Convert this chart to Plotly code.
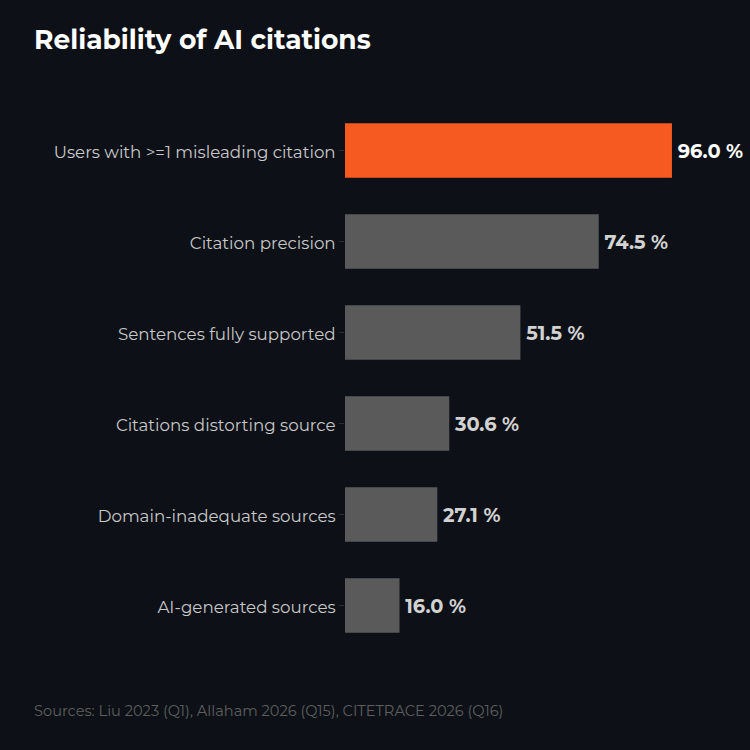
import plotly.graph_objects as go

# data
categories = [
    "Users with >=1 misleading citation",
    "Citation precision",
    "Sentences fully supported",
    "Citations distorting source",
    "Domain-inadequate sources",
    "AI-generated sources",
]
values = [96.0, 74.5, 51.5, 30.6, 27.1, 16.0]
highlight = [True, False, False, False, False, False]

FONT = "Montserrat, Open Sans, sans-serif"
BG = "#0d1117"

bar_colors = ["#f75a20" if h else "#5a5a5a" for h in highlight]
text_colors = ["#ffffff" if h else "#d2d2d2" for h in highlight]

fig = go.Figure(go.Bar(
    x=values,
    y=categories,
    orientation="h",
    marker=dict(color=bar_colors, line=dict(width=0)),
    text=[f"\u2009{v:.1f} %" for v in values],
    textposition="outside",
    textfont=dict(family=FONT, size=19.4, color=text_colors, weight="bold"),
    cliponaxis=False,
    hoverinfo="skip",
))

fig.update_layout(
    width=750,
    height=750,
    paper_bgcolor=BG,
    plot_bgcolor=BG,
    margin=dict(l=345, r=29, t=105, b=99),
    bargap=0.4,
    showlegend=False,
    title=dict(
        text="<b>Reliability of AI citations</b>",
        x=34 / 750, xanchor="left",
        y=1 - 40 / 750, yanchor="middle",
        font=dict(family=FONT, size=26.5, color="#ffffff"),
    ),
    annotations=[dict(
        text="Sources: Liu 2023 (Q1), Allaham 2026 (Q15), CITETRACE 2026 (Q16)",
        xref="paper", yref="paper",
        x=-313 / 376, y=-60 / 546,
        xanchor="left", yanchor="middle",
        showarrow=False,
        font=dict(family=FONT, size=14.6, color="#5e5e5e"),
    )],
)

fig.update_xaxes(
    range=[0, 110.4],
    visible=False,
    showgrid=False,
    zeroline=False,
)
fig.update_yaxes(
    autorange="reversed",
    showgrid=False,
    zeroline=False,
    showline=False,
    ticks="outside",
    ticklen=5,
    tickcolor="#2a2e33",
    ticklabelshift=-2,
    tickfont=dict(family=FONT, size=16.7, color="#c8c8c8"),
)

fig.write_html("out.html", config={"displayModeBar": False})

# drop the default page margin so the figure sits flush at the top-left
with open("out.html", encoding="utf-8") as f:
    page = f.read()
page = page.replace("<head>", "<head><style>body{margin:0;background:#0d1117}</style>", 1)
with open("out.html", "w", encoding="utf-8") as f:
    f.write(page)
